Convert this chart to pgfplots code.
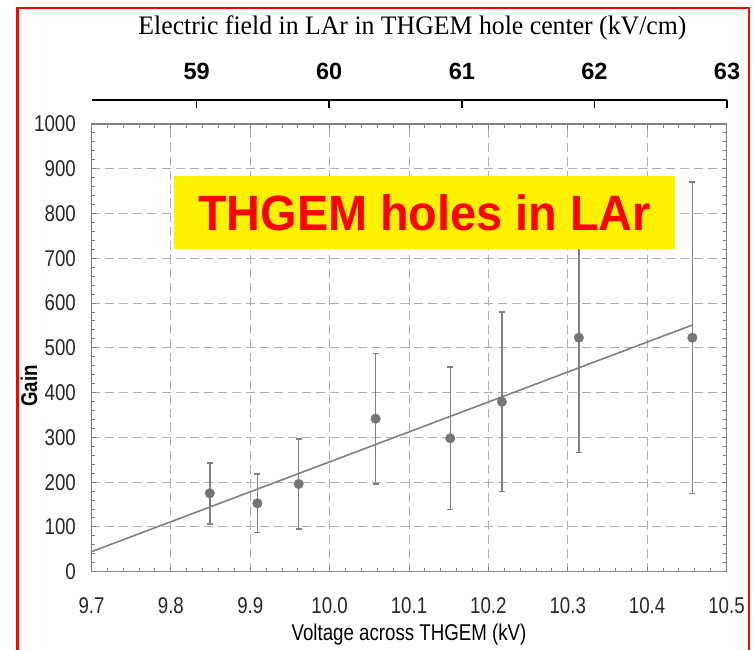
\documentclass[border=0pt]{standalone}
\usepackage{fontspec}
\setmainfont{Liberation Sans}
\newfontfamily\narrowsans{Liberation Sans}[FakeStretch=0.82]
\newfontfamily\bannerfont{Liberation Sans}[FakeStretch=0.944]
\newfontfamily\timesfont{Liberation Serif}[FakeStretch=0.965]
\usepackage{pgfplots}
\usepackage{pgfplotstable}
\pgfplotsset{compat=1.18}
\definecolor{axgray}{RGB}{128,128,128}
\definecolor{ptgray}{RGB}{118,118,118}
\definecolor{gridgray}{RGB}{175,175,175}
\pgfplotstableread{
x y e
9.849 175.1 68
9.909 152.8 65
9.961 195.9 100
10.058 341.7 146
10.152 298.0 159
10.217 379.7 200
10.314 522.7 257
10.457 522.7 348
}\gaindata
\begin{document}
\begin{tikzpicture}
\useasboundingbox (0pt,0pt) rectangle (753pt,649pt);
\draw[red, line width=2.6pt] (17.5pt,-2pt) -- (17.5pt,641pt) -- (749pt,641pt) -- (749pt,-2pt);
% top axis (electric field)
\begin{axis}[
  at={(91.5pt,549pt)}, anchor=north west,
  scale only axis, width=635.5pt, height=10pt,
  xmin=58.207, xmax=63, ymin=0, ymax=1,
  axis x line*=top, hide y axis,
  x axis line style={-, black, line width=1.6pt},
  xtick={59,60,61,62,63},
  tick align=inside, major tick length=8pt,
  xtick style={black, line width=1.6pt},
  /pgf/number format/assume math mode=true,
  xticklabel style={font=\bfseries\fontsize{23.5}{25}\selectfont, anchor=south, inner sep=0pt, yshift=20pt},
  xlabel={Electric field in LAr in THGEM hole center (kV/cm)},
  xlabel style={font=\timesfont\fontsize{26.7}{30}\selectfont, at={(axis description cs:0.505,1)}, anchor=base, inner sep=0pt, yshift=65pt},
]
\end{axis}
% main axis
\begin{axis}[
  at={(91.5pt,77.3pt)}, anchor=south west,
  scale only axis, width=635pt, height=447.7pt,
  xmin=9.7, xmax=10.5, ymin=0, ymax=1000,
  xtick={9.7,9.8,9.9,10.0,10.1,10.2,10.3,10.4,10.5},
  ytick={0,100,200,300,400,500,600,700,800,900,1000},
  minor x tick num=4, minor y tick num=4,
  grid=major,
  major grid style={gridgray, dash pattern=on 9pt off 5pt, line width=1pt},
  axis line style={axgray, line width=1.2pt},
  tick align=inside,
  tick style={axgray, line width=1pt},
  major tick length=5pt, minor tick length=4pt,
  /pgf/number format/assume math mode=true,
  /pgf/number format/1000 sep={},
  tick label style={font=\narrowsans\fontsize{22.8}{24}\selectfont, text=black!85, inner sep=0pt},
  xticklabel style={/pgf/number format/.cd, fixed, fixed zerofill, precision=1, /tikz/.cd, anchor=base, yshift=-42.2pt},
  yticklabel style={anchor=east, xshift=-15.5pt},
  xlabel={Voltage across THGEM (kV)},
  xlabel style={font=\narrowsans\fontsize{22.8}{24}\selectfont, at={(axis description cs:0.5,0)}, anchor=base, inner sep=0pt, yshift=-68.3pt},
  ylabel={Gain},
  ylabel style={font=\narrowsans\bfseries\fontsize{22.8}{24}\selectfont, at={(axis description cs:0,0.415)}, anchor=center, inner sep=0pt, yshift=62.5pt},
]
\addplot[axgray, line width=1.6pt] coordinates {(9.7,44.7) (10.457,551)};
\addplot[only marks, mark=*, mark size=4.8pt, color=ptgray,
  error bars/.cd, y dir=both, y explicit,
  error bar style={axgray, line width=1.5pt},
  error mark options={rotate=90, mark size=3pt, line width=1.5pt, axgray}]
  table[x=x, y=y, y error=e] {\gaindata};
\fill[yellow] (axis cs:9.804,719.7) rectangle (axis cs:10.435,883.9);
\node[text=red, font=\bannerfont\bfseries\fontsize{49.6}{52}\selectfont, inner sep=0pt] at (axis cs:10.1195,801.8) {THGEM holes in LAr};
\end{axis}
\end{tikzpicture}
\end{document}
